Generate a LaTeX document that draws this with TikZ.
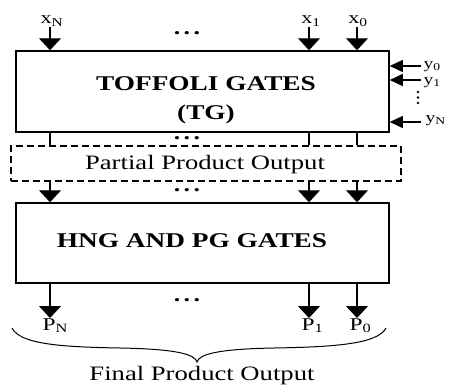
\documentclass[tikz,border=0pt]{standalone}
\usepackage{fontspec}
\setmainfont{Liberation Serif}[FakeStretch=1.3]
\usetikzlibrary{arrows.meta}

\begin{document}
\begin{tikzpicture}[x=1pt,y=1pt,line width=1.2pt,
	box/.style={draw,rectangle,inner sep=0pt,line width=1.5pt},
	arr/.style={-{Triangle[width=22pt,length=12pt]}},
	sidearr/.style={-{Triangle[width=12pt,length=13pt]}},
	lbl/.style={inner sep=0pt,font=\fontsize{17}{19}\selectfont},
	big/.style={inner sep=0pt,font=\fontsize{20.5}{24}\selectfont},
	gate/.style={inner sep=0pt,align=center,font=\fontsize{21}{29}\selectfont\bfseries}]
			\useasboundingbox (0,0) rectangle (452,384);
			\node[box,minimum width=373pt,minimum height=81pt] (tg) at (202.5,292.5) {};
			\node[box,dashed,dash pattern=on 7pt off 4pt,minimum width=390pt,minimum height=35pt] (ppo) at (206,220.5) {};
			\node[box,minimum width=373pt,minimum height=80pt] (hng) at (202.5,141) {};
			\node[gate] (tgtext) at (206,284) {TOFFOLI GATES\\(TG)};
			\node[gate] (hngtext) at (192,143) {HNG AND PG GATES};
			\node[big] (pptext) at (205,219) {Partial Product Output};
			\node[big] (fptext) at (202,8) {Final Product Output};
			\coordinate (cN) at (50,0);
			\coordinate (c1) at (309,0);
			\coordinate (c0) at (357,0);
			\node[lbl] (xN) at (52,363) {x\textsubscript{N}};
			\node[lbl] (x1) at (311,363) {x\textsubscript{1}};
			\node[lbl] (x0) at (358,363) {x\textsubscript{0}};
			\draw[arr] (xN.south -| cN) -- (cN |- tg.north);
			\draw[arr] (x1.south -| c1) -- (c1 |- tg.north);
			\draw[arr] (x0.south -| c0) -- (c0 |- tg.north);
			\coordinate (y0in) at (421,318);
			\coordinate (y1in) at (421,304);
			\coordinate (yNin) at (421,262);
			\draw[sidearr] (y0in) -- (y0in -| tg.east);
			\draw[sidearr] (y1in) -- (y1in -| tg.east);
			\draw[sidearr] (yNin) -- (yNin -| tg.east);
			\node[lbl,anchor=base west,font=\fontsize{15}{17}\selectfont] (y0) at (423,315.5) {y\textsubscript{0}};
			\node[lbl,anchor=base west,font=\fontsize{15}{17}\selectfont] (y1) at (423,300) {y\textsubscript{1}};
			\node[lbl,anchor=base west,font=\fontsize{15}{17}\selectfont] (yN) at (425,262) {y\textsubscript{N}};
			\fill (418,292) circle (1.3);
			\fill (418,286.5) circle (1.3);
			\fill (418,281) circle (1.3);
			\draw (cN |- tg.south) -- (cN |- ppo.north);
			\draw (c1 |- tg.south) -- (c1 |- ppo.north);
			\draw (c0 |- tg.south) -- (c0 |- ppo.north);
			\draw[arr] (cN |- ppo.south) -- (cN |- hng.north);
			\draw[arr] (c1 |- ppo.south) -- (c1 |- hng.north);
			\draw[arr] (c0 |- ppo.south) -- (c0 |- hng.north);
			\node[lbl,anchor=north west,font=\fontsize{18}{20}\selectfont] (pN) at (42,66) {P\textsubscript{N}};
			\node[lbl,anchor=north west,font=\fontsize{18}{20}\selectfont] (p1) at (301,66) {P\textsubscript{1}};
			\node[lbl,anchor=north west,font=\fontsize{18}{20}\selectfont] (p0) at (349,66) {P\textsubscript{0}};
			\draw[arr] (cN |- hng.south) -- (cN |- pN.north);
			\draw[arr] (c1 |- hng.south) -- (c1 |- p1.north);
			\draw[arr] (c0 |- hng.south) -- (c0 |- p0.north);
			\node[lbl,font=\fontsize{20}{22}\selectfont\bfseries] (dtop) at (187,351) {.\,.\,.};
			\node[lbl,font=\fontsize{20}{22}\selectfont\bfseries] (dmid) at (187,246) {.\,.\,.};
			\node[lbl,font=\fontsize{20}{22}\selectfont\bfseries] (dlow) at (187,194) {.\,.\,.};
			\node[lbl,font=\fontsize{20}{22}\selectfont\bfseries] (dout) at (187,84) {.\,.\,.};
			\coordinate (brL) at (12,56);
			\coordinate (brT) at (197,22);
			\coordinate (brR) at (386,56);
			\draw[line width=1pt] (brL) .. controls (20,40) and (60,37) .. (120,36) .. controls (175,35) and (195,30) .. (brT)
				.. controls (199,30) and (219,35) .. (274,36) .. controls (334,37) and (378,40) .. (brR);
		\end{tikzpicture}
\end{document}
